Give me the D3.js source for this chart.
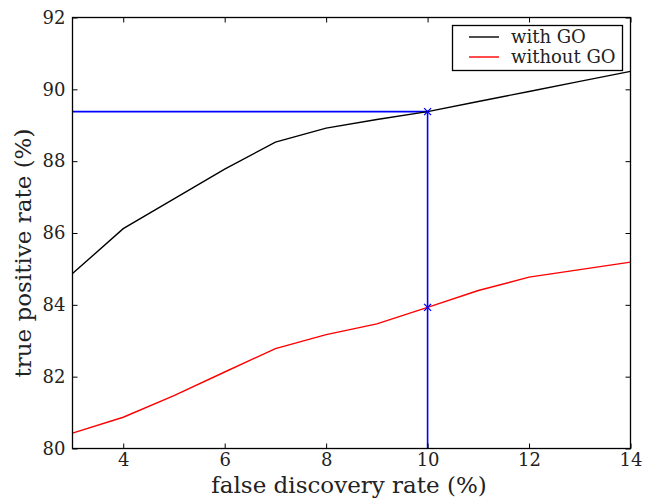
<!DOCTYPE html>
<html><head><meta charset="utf-8">
<script src="https://cdn.jsdelivr.net/npm/d3@7"></script>
<style>body{margin:0;background:#fff}svg{display:block}</style>
</head><body>
<svg id="c" width="645" height="499"></svg>
<script>
const fdr = [3,4,5,6,7,8,9,10,11,12,13,14];
const withGO = [84.87,86.12,86.95,87.78,88.53,88.92,89.16,89.38,89.66,89.94,90.22,90.50];
const withoutGO = [80.43,80.87,81.47,82.13,82.78,83.17,83.47,83.93,84.40,84.77,84.98,85.19];
const xTicks = [4,6,8,10,12,14];
const yTicks = [80,82,84,86,88,90,92];
const marker = {x:10, yHi:89.38, yLo:83.93};
const seriesNames = ["with GO","without GO"];
const seriesColors = ["#000000","#ff0000"];

const svg = d3.select("#c");
const L=72.5,R=630.5,T=17.5,B=448.5;
const x = d3.scaleLinear().domain([3,14]).range([L,R]);
const y = d3.scaleLinear().domain([80,92]).range([B,T]);
const font = "DejaVu Serif";

const line = d3.line().x((d,i)=>x(fdr[i])).y(d=>y(d));
svg.append("clipPath").attr("id","pc").append("rect").attr("x",L).attr("y",T).attr("width",R-L).attr("height",B-T);
const g = svg.append("g").attr("clip-path","url(#pc)");
g.append("path").attr("d",`M${x(3)},${y(marker.yHi)}H${x(marker.x)}V${y(80)}`)
  .attr("fill","none").attr("stroke","#0000ff").attr("stroke-width",1.6);
[withGO, withoutGO].forEach((s,i)=>{
  g.append("path").attr("d",line(s)).attr("fill","none").attr("stroke",seriesColors[i]).attr("stroke-width",1.4);
});
[marker.yHi, marker.yLo].forEach(v=>{
  const cx=x(marker.x), cy=y(v), r=3.5;
  svg.append("path").attr("d",`M${cx-r},${cy-r}L${cx+r},${cy+r}M${cx-r},${cy+r}L${cx+r},${cy-r}`)
    .attr("stroke","#0000ff").attr("stroke-width",1.3);
});

svg.append("rect").attr("x",L).attr("y",T).attr("width",R-L).attr("height",B-T)
  .attr("fill","none").attr("stroke","#000").attr("stroke-width",1.3);

const ax = svg.append("g").attr("transform",`translate(0,${B})`)
  .call(d3.axisBottom(x).tickValues(xTicks).tickSize(-5).tickPadding(5).tickFormat(d3.format("d")));
const axT = svg.append("g").attr("transform",`translate(0,${T})`)
  .call(d3.axisTop(x).tickValues(xTicks).tickSize(-5).tickFormat(""));
const ay = svg.append("g").attr("transform",`translate(${L},0)`)
  .call(d3.axisLeft(y).tickValues(yTicks).tickSize(-5).tickPadding(7).tickFormat(d3.format("d")));
const ayR = svg.append("g").attr("transform",`translate(${R},0)`)
  .call(d3.axisRight(y).tickValues(yTicks).tickSize(-5).tickFormat(""));
[ax,axT,ay,ayR].forEach(a=>{
  a.select(".domain").remove();
  a.selectAll("line").attr("stroke","#000").attr("stroke-width",1);
  a.selectAll("text").attr("font-family",font).attr("font-size",18).attr("fill","#222");
});

svg.append("text").attr("x",349).attr("y",492.5).attr("text-anchor","middle")
  .attr("font-family",font).attr("font-size",23).attr("fill","#222").text("false discovery rate (%)");
svg.append("text").attr("transform",`translate(31,253) rotate(-90)`).attr("text-anchor","middle")
  .attr("font-family",font).attr("font-size",23).attr("fill","#222").text("true positive rate (%)");

const lg = svg.append("g");
lg.append("rect").attr("x",452.5).attr("y",25.5).attr("width",170).attr("height",45)
  .attr("fill","#fff").attr("stroke","#000").attr("stroke-width",1.3);
seriesNames.forEach((n,i)=>{
  const yy = 37 + i*20;
  lg.append("line").attr("x1",469).attr("x2",499).attr("y1",yy).attr("y2",yy)
    .attr("stroke",seriesColors[i]).attr("stroke-width",1.4);
  lg.append("text").attr("x",511).attr("y",yy).attr("dy","0.32em")
    .attr("font-family",font).attr("font-size",18).attr("fill","#222").text(n);
});
</script>
</body></html>
